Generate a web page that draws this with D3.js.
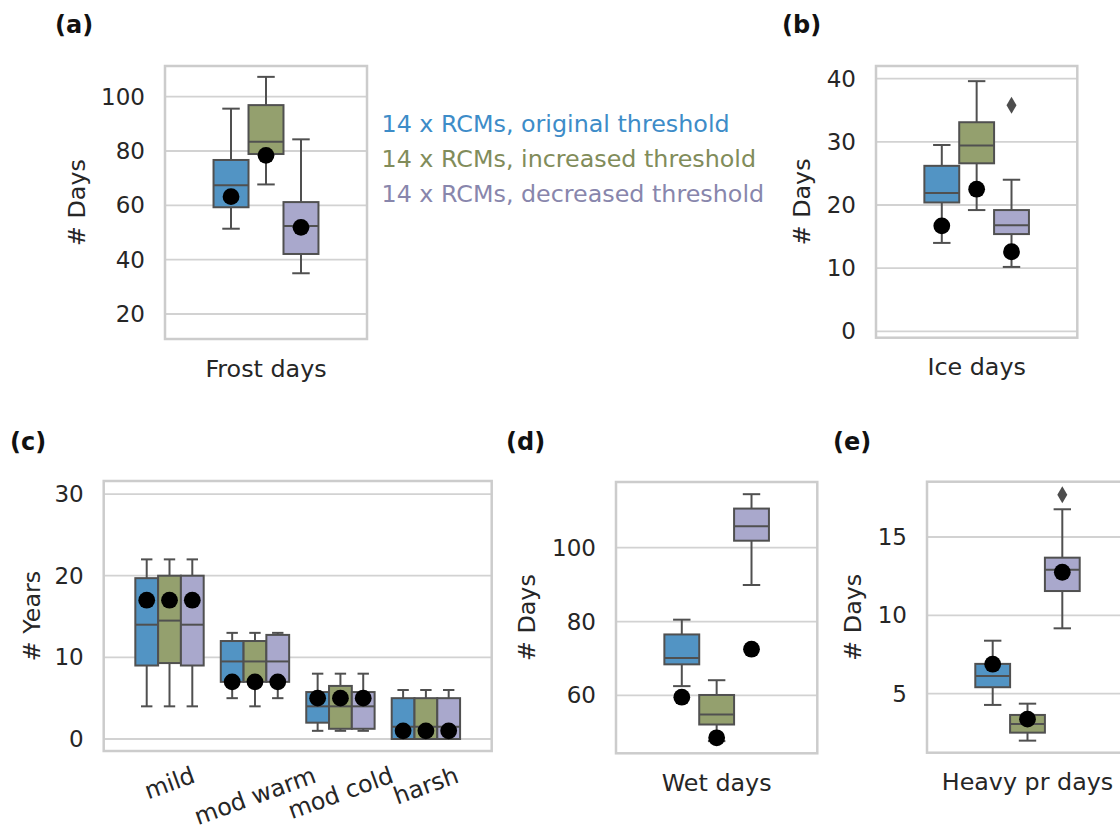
<!DOCTYPE html>
<html>
<head>
<meta charset="utf-8">
<script src="https://cdn.jsdelivr.net/npm/d3@7"></script>
<style>
  body { margin: 0; background: #ffffff; }
  svg { display: block; }
  text { font-family: "DejaVu Sans", sans-serif; }
</style>
</head>
<body>
<svg id="fig" width="1120" height="832"></svg>
<script>
// Threshold experiments, in hue order
const seriesNames = [
  "14 x RCMs, original threshold",
  "14 x RCMs, increased threshold",
  "14 x RCMs, decreased threshold"
];
const fillColors = ["#5294c4", "#94a06e", "#a9a8cc"];
const textColors = ["#3d8cc8", "#818c5a", "#8886ac"];

// Box statistics per hue: [lower whisker, q1, median, q3, upper whisker]
const frostBoxes = [[51.4, 59.3, 67.4, 76.7, 95.6], [67.7, 78.9, 83.4, 96.9, 107.3], [35.0, 42.1, 52.4, 61.2, 84.3]];
const frostObs = [63.2, 78.4, 51.9];
const frostOutliers = [[], [], []];
const frostTicks = [20, 40, 60, 80, 100];

const iceBoxes = [[14.0, 20.4, 21.9, 26.2, 29.5], [19.2, 26.6, 29.4, 33.1, 39.6], [10.2, 15.4, 16.8, 19.2, 24.0]];
const iceObs = [16.7, 22.5, 12.6];
const iceOutliers = [[], [], [35.8]];
const iceTicks = [0, 10, 20, 30, 40];

const winterCategories = ["mild", "mod warm", "mod cold", "harsh"];
const winterBoxes = [
  [[4, 9, 14, 19.7, 22], [4, 9.3, 14.5, 20, 22], [4, 9, 14, 20, 22]],
  [[5, 7, 9.5, 12, 13], [4, 7, 9.5, 12, 13], [5, 7, 9.5, 12.75, 13]],
  [[1, 2, 4, 5.75, 8], [1, 1.25, 4, 6.5, 8], [1, 1.25, 4, 5.75, 8]],
  [[0, 0, 1.5, 5, 6], [0, 0, 1.5, 5, 6], [0, 0, 1.5, 5, 6]]
];
const winterObs = [[17, 17, 17], [7, 7, 7], [5, 5, 5], [1, 1, 1]];
const winterOutliers = [[[], [], []], [[], [], []], [[], [], []], [[], [], []]];
const winterTicks = [0, 10, 20, 30];

const wetBoxes = [[62.5, 68.4, 70.1, 76.5, 80.5], [47.6, 52.1, 54.8, 60.1, 64.1], [89.9, 101.9, 105.8, 110.6, 114.5]];
const wetObs = [59.5, 48.5, 72.5];
const wetOutliers = [[], [], []];
const wetTicks = [60, 80, 100];

const heavyBoxes = [[4.28, 5.41, 6.13, 6.9, 8.38], [2.0, 2.51, 3.07, 3.64, 4.36], [9.17, 11.55, 12.91, 13.68, 16.77]];
const heavyObs = [6.88, 3.37, 12.75];
const heavyOutliers = [[], [], [17.7]];
const heavyTicks = [5, 10, 15];

const TICK_FONT = 23;
const LABEL_FONT = 23.8;
const INK = "#262626";
const EDGE = "#505050";

const svg = d3.select("#fig");

const panels = [
  { letter: "(a)", lx: 55, ly: 25, frame: [165, 367, 66, 339], yDomain: [10.8, 111.3],
    ticks: frostTicks, ylabel: "# Days", ylabelX: 84.5,
    categories: ["Frost days"], boxes: [frostBoxes], obs: [frostObs], outliers: [frostOutliers] },
  { letter: "(b)", lx: 782, ly: 25, frame: [876, 1077.3, 66, 337.7], yDomain: [-1.0, 42.0],
    ticks: iceTicks, ylabel: "# Days", ylabelX: 809.5,
    categories: ["Ice days"], boxes: [iceBoxes], obs: [iceObs], outliers: [iceOutliers] },
  { letter: "(c)", lx: 10, ly: 442, frame: [103.7, 491.7, 481, 751], yDomain: [-1.47, 31.6],
    ticks: winterTicks, ylabel: "# Years", ylabelX: 40, rotateLabels: true,
    categories: winterCategories, boxes: winterBoxes, obs: winterObs, outliers: winterOutliers },
  { letter: "(d)", lx: 506, ly: 442, frame: [616, 817.3, 482, 753.3], yDomain: [44.3, 117.8],
    ticks: wetTicks, ylabel: "# Days", ylabelX: 534.5,
    categories: ["Wet days"], boxes: [wetBoxes], obs: [wetObs], outliers: [wetOutliers] },
  { letter: "(e)", lx: 833, ly: 442, frame: [927, 1128, 481.7, 752.7], yDomain: [1.23, 18.53],
    ticks: heavyTicks, ylabel: "# Days", ylabelX: 860.5,
    categories: ["Heavy pr days"], boxes: [heavyBoxes], obs: [heavyObs], outliers: [heavyOutliers] }
];

const hueSpan = 0.8 / 3;

panels.forEach(p => {
  const [fx0, fx1, fy0, fy1] = p.frame;
  const n = p.categories.length;
  const x = d3.scaleLinear().domain([-0.77, n - 1 + 0.77]).range([fx0, fx1]);
  const y = d3.scaleLinear().domain(p.yDomain).range([fy1, fy0]);
  const g = svg.append("g");

  // panel letter
  svg.append("text")
    .attr("x", p.lx).attr("y", p.ly)
    .attr("dominant-baseline", "central")
    .attr("font-size", 24).attr("font-weight", "bold").attr("fill", "#111")
    .text(p.letter);

  // horizontal grid
  g.selectAll("line.grid").data(p.ticks).join("line")
    .attr("class", "grid")
    .attr("x1", fx0).attr("x2", fx1)
    .attr("y1", d => y(d)).attr("y2", d => y(d))
    .attr("stroke", "#d2d2d2").attr("stroke-width", 1.8);

  // y tick labels
  g.selectAll("text.ytick").data(p.ticks).join("text")
    .attr("class", "ytick")
    .attr("x", fx0 - 20).attr("y", d => y(d))
    .attr("text-anchor", "end").attr("dominant-baseline", "central")
    .attr("font-size", TICK_FONT).attr("fill", INK)
    .text(d => d);

  // y axis label
  g.append("text")
    .attr("transform", `translate(${p.ylabelX},${(fy0 + fy1) / 2}) rotate(-90)`)
    .attr("text-anchor", "middle")
    .attr("font-size", LABEL_FONT).attr("fill", INK)
    .text(p.ylabel);

  // boxes
  const bw = x(hueSpan) - x(0);
  p.categories.forEach((cat, i) => {
    p.boxes[i].forEach((s, j) => {
      const cx = x(i + (j - 1) * hueSpan);
      const [lw, q1, med, q3, uw] = s;
      const bg = g.append("g");
      bg.append("line").attr("x1", cx).attr("x2", cx).attr("y1", y(lw)).attr("y2", y(q1))
        .attr("stroke", EDGE).attr("stroke-width", 2);
      bg.append("line").attr("x1", cx).attr("x2", cx).attr("y1", y(q3)).attr("y2", y(uw))
        .attr("stroke", EDGE).attr("stroke-width", 2);
      [lw, uw].forEach(v => {
        bg.append("line").attr("x1", cx - bw / 4).attr("x2", cx + bw / 4)
          .attr("y1", y(v)).attr("y2", y(v))
          .attr("stroke", EDGE).attr("stroke-width", 2);
      });
      bg.append("rect")
        .attr("x", cx - bw / 2).attr("width", bw)
        .attr("y", y(q3)).attr("height", Math.max(0, y(q1) - y(q3)))
        .attr("fill", fillColors[j]).attr("stroke", EDGE).attr("stroke-width", 2);
      bg.append("line").attr("x1", cx - bw / 2).attr("x2", cx + bw / 2)
        .attr("y1", y(med)).attr("y2", y(med))
        .attr("stroke", EDGE).attr("stroke-width", 2);
      // outliers as thin diamonds
      p.outliers[i][j].forEach(v => {
        const oy = y(v);
        bg.append("path")
          .attr("d", `M${cx},${oy - 8.5} L${cx + 5},${oy} L${cx},${oy + 8.5} L${cx - 5},${oy} Z`)
          .attr("fill", "#4d4d4d");
      });
    });
  });

  // observed values
  p.categories.forEach((cat, i) => {
    p.obs[i].forEach((v, j) => {
      g.append("circle")
        .attr("cx", x(i + (j - 1) * hueSpan)).attr("cy", y(v)).attr("r", 8.4)
        .attr("fill", "#000");
    });
  });

  // frame
  g.append("rect")
    .attr("x", fx0).attr("y", fy0).attr("width", fx1 - fx0).attr("height", fy1 - fy0)
    .attr("fill", "none").attr("stroke", "#cccccc").attr("stroke-width", 2.5);

  // x labels
  if (p.rotateLabels) {
    const ang = 20 * Math.PI / 180;
    const lineH = 1.164 * LABEL_FONT;
    p.categories.forEach((cat, i) => {
      const t = g.append("text")
        .attr("text-anchor", "middle")
        .attr("y", 0.346 * LABEL_FONT)
        .attr("font-size", LABEL_FONT).attr("fill", INK)
        .text(cat);
      const w = t.node().getComputedTextLength();
      const h = w * Math.sin(ang) + lineH * Math.cos(ang);
      const cy = fy1 + 10 + h / 2;
      t.attr("transform", `translate(${x(i)},${cy}) rotate(-20)`);
    });
  } else {
    g.append("text")
      .attr("x", x(0)).attr("y", fy1 + 37.5)
      .attr("text-anchor", "middle")
      .attr("font-size", LABEL_FONT).attr("fill", INK)
      .text(p.categories[0]);
  }
});

// legend
const legendBaselines = [131.7, 166.7, 201.7];
svg.append("g").selectAll("text").data(seriesNames).join("text")
  .attr("x", 381.5).attr("y", (d, i) => legendBaselines[i])
  .attr("font-size", 23.8).attr("fill", (d, i) => textColors[i])
  .text(d => d);
</script>
</body>
</html>
